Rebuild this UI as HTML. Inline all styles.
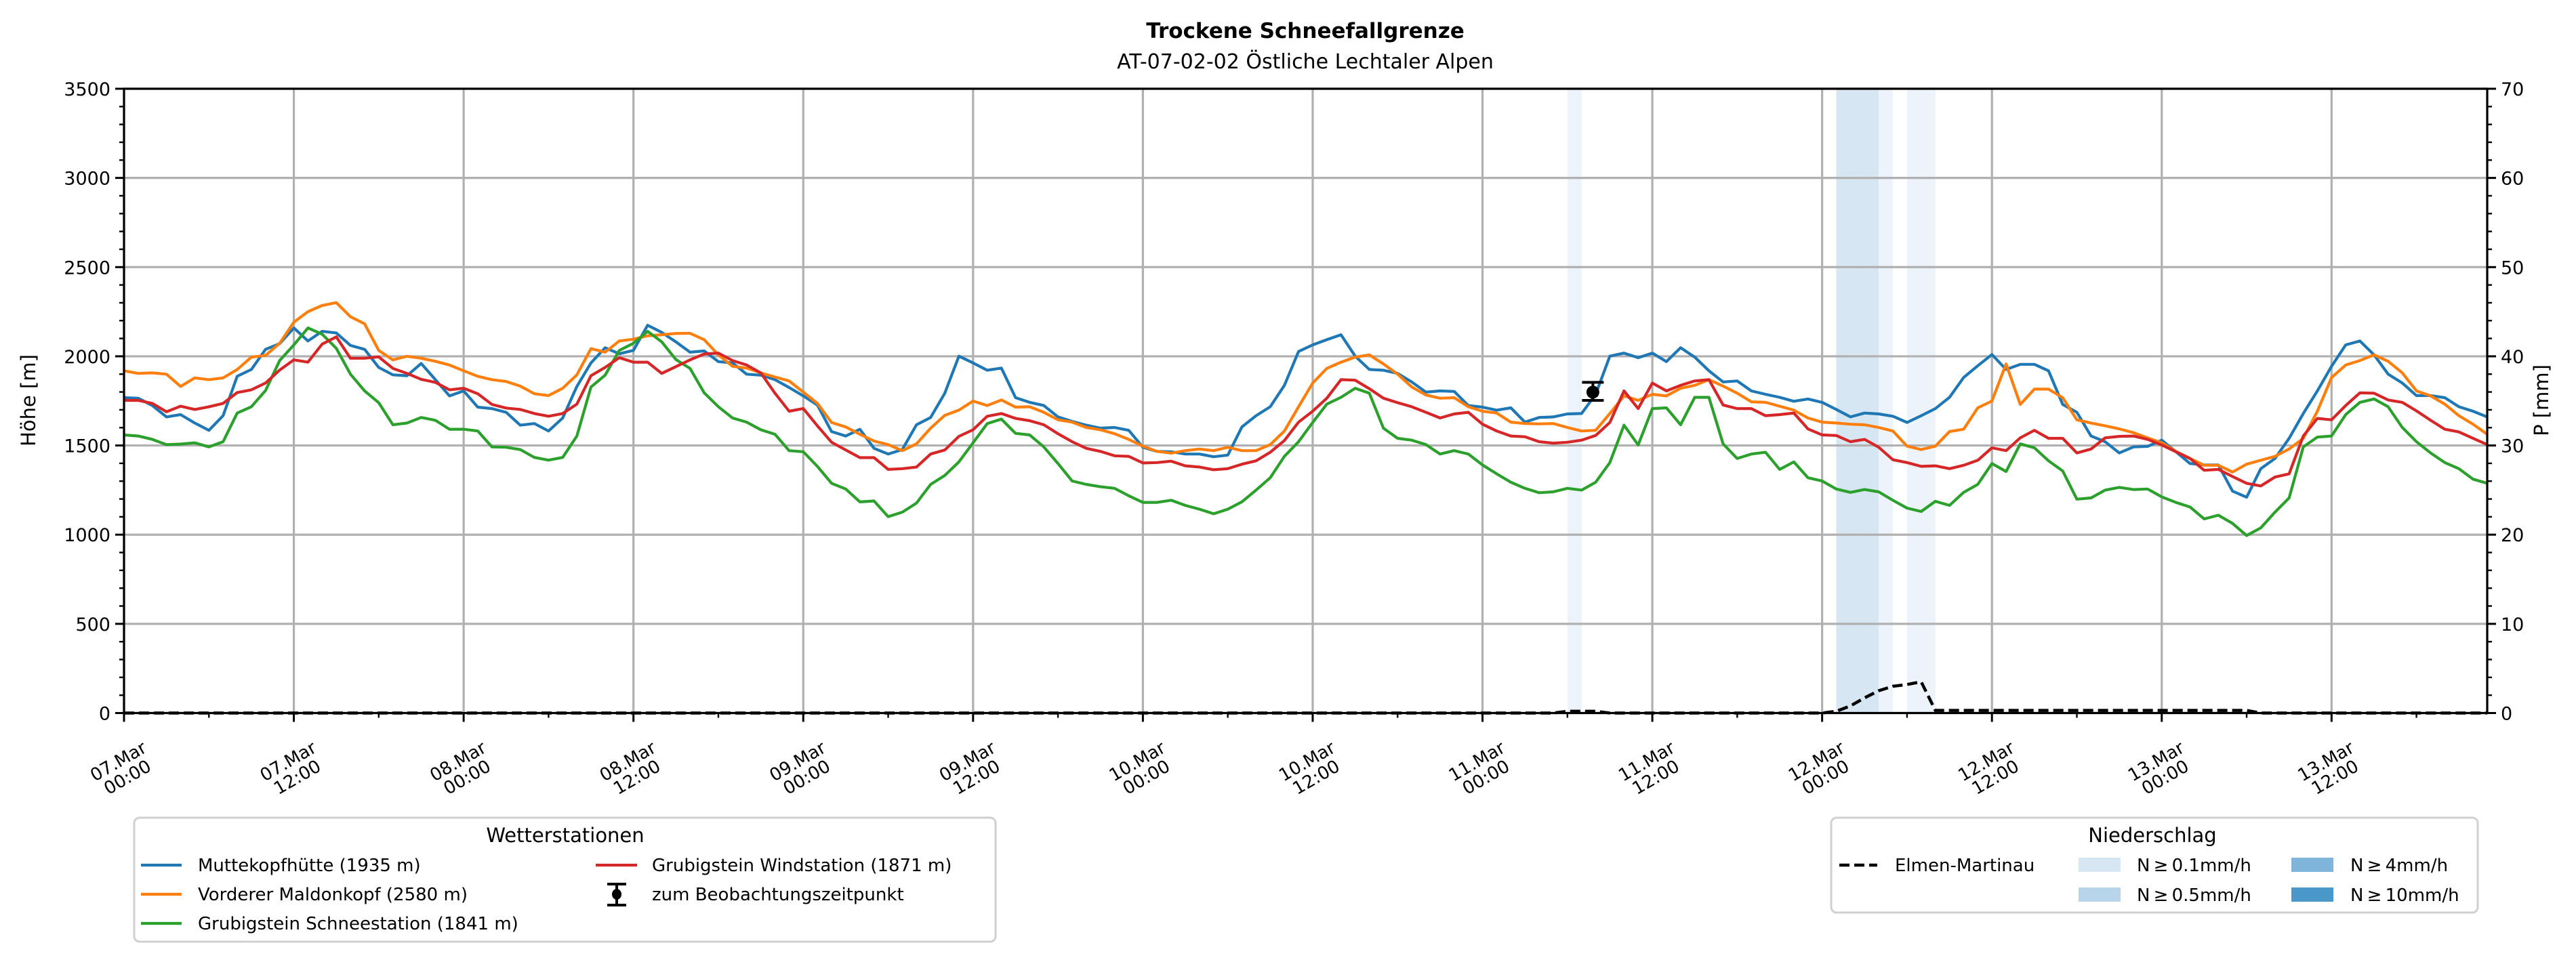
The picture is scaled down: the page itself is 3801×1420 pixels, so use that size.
<!DOCTYPE html>
<html><head><meta charset="utf-8"><style>
html,body{margin:0;padding:0;background:#fff}
svg{display:block;font-family:"DejaVu Sans","Liberation Sans",sans-serif}
</style></head><body>
<svg id="chart" xmlns="http://www.w3.org/2000/svg" width="3801" height="1420" viewBox="0 0 3801 1420">
<rect x="0" y="0" width="3801" height="1420" fill="#fff"/>
<text x="1926" y="56" text-anchor="middle" font-size="31" font-weight="bold">Trockene Schneefallgrenze</text>
<text x="1926" y="101" text-anchor="middle" font-size="30">AT-07-02-02 Östliche Lechtaler Alpen</text>
<g id="bands"></g>
<g id="grid"></g>
<g id="series"></g>
<g id="axes"></g>
<text transform="translate(52,591) rotate(-90)" text-anchor="middle" font-size="29">Höhe [m]</text>
<text transform="translate(3760,591) rotate(-90)" text-anchor="middle" font-size="29">P [mm]</text>

<g>
<rect x="198" y="1207" width="1271" height="183" rx="8" fill="#fff" stroke="#d0d0d0" stroke-width="3"/>
<text x="834" y="1243" text-anchor="middle" font-size="29">Wetterstationen</text>
<g><line x1="208" y1="1277" x2="268" y2="1277" stroke="#1f77b4" stroke-width="4.2"/><text x="292" y="1286" font-size="26">Muttekopfhütte (1935 m)</text></g>
<g><line x1="208" y1="1320" x2="268" y2="1320" stroke="#ff7f0e" stroke-width="4.2"/><text x="292" y="1329" font-size="26">Vorderer Maldonkopf (2580 m)</text></g>
<g><line x1="208" y1="1363" x2="268" y2="1363" stroke="#2ca02c" stroke-width="4.2"/><text x="292" y="1372" font-size="26">Grubigstein Schneestation (1841 m)</text></g>
<g><line x1="879" y1="1277" x2="940" y2="1277" stroke="#d62728" stroke-width="4.2"/><text x="962" y="1286" font-size="26">Grubigstein Windstation (1871 m)</text></g>
<g><line x1="910" y1="1305" x2="910" y2="1336" stroke="#000" stroke-width="4"/><line x1="896" y1="1305" x2="924" y2="1305" stroke="#000" stroke-width="4"/><line x1="896" y1="1336" x2="924" y2="1336" stroke="#000" stroke-width="4"/><ellipse cx="910" cy="1320" rx="7" ry="8" fill="#000"/><text x="962" y="1329" font-size="26">zum Beobachtungszeitpunkt</text></g>
</g>

<g>
<rect x="2702" y="1207" width="954" height="140" rx="8" fill="#fff" stroke="#d0d0d0" stroke-width="3"/>
<text x="3176" y="1243" text-anchor="middle" font-size="29">Niederschlag</text>
<g><line x1="2714" y1="1277" x2="2770" y2="1277" stroke="#000" stroke-width="4.5" stroke-dasharray="15,7"/><text x="2796" y="1286" font-size="26">Elmen-Martinau</text></g>
<g><rect x="3067" y="1266" width="62" height="21" fill="#d6e6f3"/><text x="3153" y="1286" font-size="26">N&#8201;≥&#8201;0.1mm/h</text></g>
<g><rect x="3067" y="1310" width="62" height="21" fill="#b8d4ea"/><text x="3153" y="1330" font-size="26">N&#8201;≥&#8201;0.5mm/h</text></g>
<g><rect x="3381" y="1266" width="62" height="21" fill="#7fb5da"/><text x="3468" y="1286" font-size="26">N&#8201;≥&#8201;4mm/h</text></g>
<g><rect x="3381" y="1310" width="62" height="21" fill="#4a98c9"/><text x="3468" y="1330" font-size="26">N&#8201;≥&#8201;10mm/h</text></g>
</g>
</svg>
<script>
const muttekopf=[1768,1765,1724,1660,1673,1626,1585,1667,1888,1926,2039,2071,2159,2086,2140,2131,2061,2039,1938,1896,1891,1960,1869,1778,1806,1715,1707,1686,1614,1623,1581,1654,1831,1963,2048,2014,2033,2174,2134,2081,2023,2030,1970,1963,
1900,1894,1869,1825,1778,1727,1578,1553,1591,1484,1452,1477,1616,1657,1793,2001,1963,1922,1934,1768,1742,1724,1660,1635,1614,1597,1601,1585,1490,1467,1465,1452,1452,1437,1446,1604,1667,1717,1837,2027,2064,2093,
2121,2001,1926,1922,1904,1856,1799,1806,1803,1724,1715,1698,1711,1631,1657,1660,1677,1679,1787,2001,2018,1992,2018,1970,2048,1995,1919,1856,1862,1806,1787,1770,1748,1761,1742,1702,1660,1682,1677,1664,1629,1667,
1707,1770,1881,1947,2010,1926,1955,1955,1919,1730,1686,1553,1521,1458,1492,1495,1530,1465,1399,1391,1391,1244,1210,1370,1427,1540,1679,1806,1944,2064,2086,2008,1900,1850,1780,1780,1768,1717,1692,1660];
const maldonkopf=[1919,1904,1907,1900,1831,1879,1869,1879,1926,1995,2005,2073,2191,2250,2285,2301,2222,2182,2033,1980,2000,1989,1972,1951,1919,1888,1869,1859,1833,1790,1780,1821,1896,2043,2023,2086,2096,2115,2121,2128,2129,2093,2008,1944,
1934,1907,1884,1862,1799,1736,1629,1604,1563,1525,1505,1471,1509,1597,1669,1698,1749,1724,1755,1715,1717,1686,1644,1631,1601,1588,1566,1534,1496,1467,1457,1471,1480,1471,1490,1471,1471,1505,1581,1717,1850,1932,
1967,1995,2008,1957,1900,1828,1783,1765,1768,1717,1692,1682,1631,1623,1621,1623,1601,1581,1585,1679,1778,1753,1787,1778,1821,1837,1869,1833,1793,1745,1742,1720,1698,1654,1631,1626,1619,1616,1601,1581,1496,1477,
1496,1578,1591,1711,1749,1957,1730,1816,1816,1768,1644,1626,1610,1593,1572,1543,1515,1467,1427,1389,1389,1351,1395,1417,1439,1480,1540,1692,1881,1951,1976,2008,1972,1907,1806,1778,1732,1667,1619,1563];
const grubigSchnee=[1559,1553,1534,1505,1508,1515,1492,1521,1682,1717,1808,1976,2064,2159,2124,2045,1900,1806,1740,1616,1626,1657,1641,1591,1591,1581,1492,1490,1477,1433,1418,1433,1553,1828,1894,2033,2073,2140,2081,1982,1932,1795,1717,1654,
1631,1588,1563,1471,1465,1383,1288,1256,1184,1189,1101,1126,1177,1282,1332,1408,1515,1623,1648,1568,1559,1492,1399,1301,1282,1269,1260,1218,1181,1181,1193,1164,1143,1117,1143,1184,1250,1319,1439,1521,1629,1732,
1770,1821,1793,1597,1540,1530,1505,1452,1471,1452,1391,1341,1294,1260,1235,1240,1260,1250,1294,1404,1614,1503,1707,1711,1616,1770,1770,1509,1427,1452,1462,1366,1408,1319,1301,1256,1237,1253,1240,1193,1149,1130,
1187,1164,1237,1282,1399,1354,1509,1487,1414,1357,1199,1206,1250,1265,1253,1256,1212,1181,1155,1088,1109,1063,995,1038,1126,1206,1492,1547,1553,1673,1742,1761,1717,1601,1521,1458,1404,1370,1311,1288];
const grubigWind=[1753,1753,1736,1689,1720,1702,1717,1736,1797,1812,1850,1923,1980,1967,2068,2109,1989,1989,1997,1932,1904,1871,1854,1812,1821,1790,1730,1710,1702,1679,1664,1679,1732,1891,1938,1992,1967,1967,1904,1942,1980,2013,2018,1976,
1951,1907,1793,1692,1707,1610,1518,1475,1432,1432,1366,1370,1379,1452,1475,1551,1588,1664,1679,1652,1639,1616,1566,1521,1484,1467,1442,1439,1402,1404,1412,1386,1379,1364,1370,1395,1414,1462,1528,1631,1692,1765,
1869,1866,1818,1765,1740,1717,1686,1654,1677,1686,1619,1581,1553,1549,1521,1513,1518,1530,1556,1629,1806,1707,1850,1806,1837,1862,1869,1727,1707,1707,1667,1673,1682,1593,1559,1556,1521,1534,1490,1420,1404,1383,
1386,1370,1389,1417,1487,1471,1543,1585,1540,1540,1458,1480,1543,1551,1553,1534,1503,1465,1427,1361,1366,1326,1288,1273,1323,1341,1553,1652,1644,1724,1795,1793,1755,1742,1694,1641,1591,1576,1540,1505];
const precipHours=[0,101,102,104,105,120,121,122,123,124,125,126,127,128,150,151,167];
const precipValues=[0,0,0.2,0.2,0,0,0.2,0.8,1.7,2.5,3.0,3.2,3.5,0.3,0.3,0,0];
const bandHours=[102,121,122,123,124,126,127];
const bandLevels=[0.1,0.5,0.5,0.5,0.1,0.1,0.1];
const obsHour=[103.8];
const obsValue=[1799];
const obsLow=[1753];
const obsHigh=[1854];
const yTicks=[0,500,1000,1500,2000,2500,3000,3500];
const y2Ticks=[0,10,20,30,40,50,60,70];
const xTickHours=[0,12,24,36,48,60,72,84,96,108,120,132,144,156];
const xTickDates=["07.Mar","07.Mar","08.Mar","08.Mar","09.Mar","09.Mar","10.Mar","10.Mar","11.Mar","11.Mar","12.Mar","12.Mar","13.Mar","13.Mar"];
const xTickTimes=["00:00","12:00","00:00","12:00","00:00","12:00","00:00","12:00","00:00","12:00","00:00","12:00","00:00","12:00"];

const NS="http://www.w3.org/2000/svg";
const L=183,R=3670,T=131,B=1052.5,HMAX=167;
const xs=h=>L+h*(R-L)/HMAX;
const yL=m=>B-m*(B-T)/3500;
const yR=p=>B-p*(B-T)/70;
function mk(tag,parent,attrs){const e=document.createElementNS(NS,tag);for(const k in attrs)e.setAttribute(k,attrs[k]);parent.appendChild(e);return e;}
const gB=document.getElementById('bands'),gG=document.getElementById('grid'),gS=document.getElementById('series'),gA=document.getElementById('axes');
const bandColor=l=>l>=10?'#4a98c9':l>=4?'#7fb5da':l>=0.5?'#d6e6f3':'#edf3fa';
bandHours.forEach((h,i)=>{
  const r=mk('rect',gB,{x:xs(h),y:T,width:xs(h+1)-xs(h),height:B-T,fill:bandColor(bandLevels[i])});
  
  
});
xTickHours.forEach(h=>{
  const l=mk('line',gG,{x1:xs(h),x2:xs(h),y1:T,y2:B,stroke:'#b0b0b0','stroke-width':3.2});
  
  
});
yTicks.forEach(v=>{
  const l=mk('line',gG,{x1:L,x2:R,y1:yL(v),y2:yL(v),stroke:'#b0b0b0','stroke-width':3.2});
  
  
});
function drawSeries(arr,color,name){
  const pts=arr.map((v,i)=>xs(i).toFixed(1)+','+yL(v).toFixed(1)).join(' ');
  const p=mk('polyline',gS,{points:pts,fill:'none',stroke:color,'stroke-width':4.2,'stroke-linejoin':'round'});
  
  
}
drawSeries(muttekopf,'#1f77b4','line-muttekopfhuette');
drawSeries(maldonkopf,'#ff7f0e','line-vorderer-maldonkopf');
drawSeries(grubigSchnee,'#2ca02c','line-grubigstein-schneestation');
drawSeries(grubigWind,'#d62728','line-grubigstein-windstation');
const pp=mk('polyline',gS,{points:precipHours.map((h,i)=>xs(h).toFixed(1)+','+yR(precipValues[i]).toFixed(1)).join(' '),fill:'none',stroke:'#000','stroke-width':4.5,'stroke-dasharray':'15,7'});


obsHour.forEach((h,i)=>{
  const g=mk('g',gS,{});
  
  
  const x=xs(h);
  mk('line',g,{x1:x,x2:x,y1:yL(obsLow[i]),y2:yL(obsHigh[i]),stroke:'#000','stroke-width':4});
  mk('line',g,{x1:x-16,x2:x+16,y1:yL(obsLow[i]),y2:yL(obsLow[i]),stroke:'#000','stroke-width':4});
  mk('line',g,{x1:x-16,x2:x+16,y1:yL(obsHigh[i]),y2:yL(obsHigh[i]),stroke:'#000','stroke-width':4});
  mk('circle',g,{cx:x,cy:yL(obsValue[i]),r:9.5,fill:'#000'});
});
const fr=mk('rect',gA,{x:L,y:T,width:R-L,height:B-T,fill:'none',stroke:'#000','stroke-width':3.2});


for(let v=0;v<=3500;v+=100){const maj=v%500===0;mk('line',gA,{x1:L-(maj?13:7),x2:L,y1:yL(v),y2:yL(v),stroke:'#000','stroke-width':maj?3:2.4});}
for(let v=0;v<=70;v+=2){const maj=v%10===0;mk('line',gA,{x1:R,x2:R+(maj?13:7),y1:yR(v),y2:yR(v),stroke:'#000','stroke-width':maj?3:2.4});}
for(let h=0;h<=HMAX;h+=6){const maj=h%12===0;mk('line',gA,{x1:xs(h),x2:xs(h),y1:B,y2:B+(maj?13:7),stroke:'#000','stroke-width':maj?3:2.4});}
yTicks.forEach(v=>{
  const t=mk('text',gA,{x:L-20,y:yL(v)+10,'text-anchor':'end','font-size':27});
  t.textContent=v;
  
  
});
y2Ticks.forEach(v=>{
  const t=mk('text',gA,{x:R+20,y:yR(v)+10,'font-size':27});
  t.textContent=v;
  
  
});
xTickHours.forEach((h,i)=>{
  const cx=xs(h)-2, cy=1135;
  const t=mk('text',gA,{transform:`translate(${cx},${cy}) rotate(-30)`,'text-anchor':'middle','font-size':26});
  
  
  const a=mk('tspan',t,{x:0,y:-4});a.textContent=xTickDates[i];
  const b=mk('tspan',t,{x:0,y:23});b.textContent=xTickTimes[i];
});
</script>
</body></html>
